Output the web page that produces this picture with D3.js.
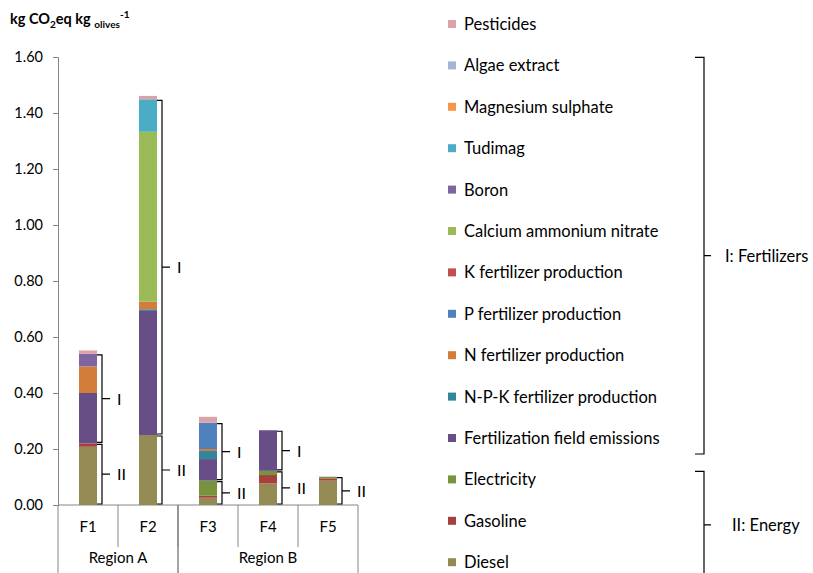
<!doctype html>
<html lang="en">
<head>
  <meta charset="utf-8">
  <title>Carbon footprint per farm</title>
  <style type="text/css">
    body{ margin:0; background:#fff; }
    text{ font-family: Lato, "Open Sans", sans-serif; fill:#000; }
    .axis path, .axis line{ stroke:#868686; }
    .axis text{ font-size:14.5px; }
    .brace{ fill:none; stroke:#000; stroke-width:1.2; }
  </style>
</head>
<body>
  <div id="vis"></div>
  <script src="https://cdn.jsdelivr.net/npm/d3@7"></script>
  <script type="text/javascript">

    var width = 813,
      height = 573;

    // data (stack order, bottom first)
    var farms = ['F1','F2','F3','F4','F5'];
    var regions = ['Region A','Region B'],
      regionSize = [2,3];

    var series = ['Diesel','Gasoline','Electricity','Fertilization field emissions',
      'N-P-K fertilizer production','N fertilizer production','P fertilizer production',
      'K fertilizer production','Calcium ammonium nitrate','Boron','Tudimag',
      'Magnesium sulphate','Algae extract','Pesticides'];

    var diesel      = [0.208, 0.250, 0.026, 0.077, 0.087],
      gasoline      = [0.012, 0.000, 0.007, 0.030, 0.008],
      electricity   = [0.000, 0.000, 0.054, 0.015, 0.006],
      fieldEmis     = [0.180, 0.443, 0.077, 0.145, 0.000],
      npkFert       = [0.000, 0.006, 0.029, 0.000, 0.000],
      nFert         = [0.095, 0.027, 0.007, 0.000, 0.000],
      pFert         = [0.000, 0.000, 0.094, 0.000, 0.000],
      kFert         = [0.000, 0.000, 0.000, 0.000, 0.000],
      can           = [0.000, 0.607, 0.000, 0.000, 0.000],
      boron         = [0.045, 0.000, 0.000, 0.000, 0.000],
      tudimag       = [0.000, 0.116, 0.000, 0.000, 0.000],
      mgSulphate    = [0.000, 0.000, 0.000, 0.000, 0.000],
      algae         = [0.000, 0.000, 0.000, 0.000, 0.000],
      pesticides    = [0.012, 0.012, 0.021, 0.000, 0.000];

    var values = [diesel, gasoline, electricity, fieldEmis, npkFert, nFert, pFert,
      kFert, can, boron, tudimag, mgSulphate, algae, pesticides];

    var colors = ['#948A54','#A5403D','#77933C','#674E87','#31859C','#D27E3A','#4F81BD',
      '#C0504D','#9BBB59','#8064A2','#4BACC6','#F79646','#A5B5D7','#DBA3A6'];

    var yTicks = [0,0.2,0.4,0.6,0.8,1.0,1.2,1.4,1.6];

    // groups for the braces: [first series, last series, label]
    var groups = [[0,2,'II'],[3,12,'I']];

    var svg = d3.select('#vis').append('svg')
      .attr('width', width)
      .attr('height', height);

    var x = d3.scaleBand().domain(farms).range([58,358]);
    var y = d3.scaleLinear().domain([0,1.6]).range([505,57]);
    var barW = x.bandwidth()*0.3;

    // title
    var title = svg.append('text')
      .attr('x', 10).attr('y', 24)
      .style('font-size','14.5px').style('font-weight','bold');
    title.append('tspan').text('kg CO');
    title.append('tspan').attr('dy',4).style('font-size','10px').text('2');
    title.append('tspan').attr('dy',-4).text('eq kg ');
    title.append('tspan').attr('dy',4).style('font-size','10px').text('olives');
    title.append('tspan').attr('dy',-10).style('font-size','10px').text('-1');

    // y axis
    svg.append('g')
      .attr('class','axis')
      .attr('transform','translate(58,0)')
      .call(d3.axisLeft(y).tickValues(yTicks).tickFormat(d3.format('.2f')).tickSize(5).tickSizeOuter(5).tickPadding(10));

    // x axis with two levels
    var xa = svg.append('g').attr('class','axis');
    xa.append('line').attr('x1',58).attr('x2',358).attr('y1',505).attr('y2',505);
    farms.forEach(function(f,i){
      if(i > 0){
        xa.append('line').attr('x1',x(f)).attr('x2',x(f)).attr('y1',505).attr('y2',547);
      }
      xa.append('text')
        .attr('x', x(f)+x.bandwidth()/2).attr('y', 532)
        .attr('text-anchor','middle')
        .style('font-size','15px')
        .text(f);
    });
    var start = 0;
    regions.forEach(function(r,i){
      var x0 = x(farms[start]), x1 = x(farms[start+regionSize[i]-1])+x.bandwidth();
      xa.append('line').attr('x1',x0).attr('x2',x0).attr('y1',505).attr('y2',573);
      xa.append('line').attr('x1',x1).attr('x2',x1).attr('y1',505).attr('y2',573);
      xa.append('text')
        .attr('x',(x0+x1)/2).attr('y',563)
        .attr('text-anchor','middle')
        .style('font-size','15px')
        .text(r);
      start += regionSize[i];
    });

    // stacked bars
    var rows = farms.map(function(f,i){
      var row = {farm:f};
      series.forEach(function(s,j){ row[s] = values[j][i]; });
      return row;
    });
    var stack = d3.stack().keys(series)(rows);

    svg.append('g').selectAll('g')
      .data(stack)
      .enter().append('g')
        .attr('fill', function(d,i){ return colors[i]; })
      .selectAll('rect')
      .data(function(d){ return d; })
      .enter().append('rect')
        .attr('x', function(d){ return x(d.data.farm)+(x.bandwidth()-barW)/2; })
        .attr('width', barW)
        .attr('y', function(d){ return y(d[1]); })
        .attr('height', function(d){ return y(d[0])-y(d[1]); });

    // braces next to each bar
    function brace(g, xb, y0, y1, hook, tick){
      var ym = (y0+y1)/2;
      g.append('path')
        .attr('class','brace')
        .attr('d', 'M'+(xb-hook)+','+y0+'L'+xb+','+y0+'L'+xb+','+y1+'L'+(xb-hook)+','+y1
          +'M'+xb+','+ym+'L'+(xb+tick)+','+ym);
    }

    var braces = svg.append('g');
    farms.forEach(function(f,i){
      var xr = x(f)+(x.bandwidth()+barW)/2 + 5;
      groups.forEach(function(gr){
        var lo = stack[gr[0]][i][0], hi = stack[gr[1]][i][1];
        if(hi - lo <= 0.001) return;
        var y0 = y(hi)+1, y1 = y(lo)-1;
        brace(braces, xr, y0, y1, 5, 8);
        braces.append('text')
          .attr('x', xr+15).attr('y', (y0+y1)/2+6)
          .style('font-size','16px')
          .style('fill','#000')
          .text(gr[2]);
      });
    });

    // legend
    var legend = svg.append('g');
    var legendY = function(k){ return 24 + k*41.4; };
    var order = series.slice().reverse();
    order.forEach(function(s,k){
      var c = colors[series.indexOf(s)];
      legend.append('rect')
        .attr('x',448).attr('y',legendY(k)-4).attr('width',8).attr('height',8)
        .attr('fill',c);
      legend.append('text')
        .attr('x',464).attr('y',legendY(k)+6)
        .style('font-size','16.5px')
        .text(s);
    });

    // group braces in the legend
    var legendGroups = [[12,3,'I: Fertilizers',725],[2,0,'II: Energy',732]];
    legendGroups.forEach(function(gr){
      var k0 = order.indexOf(series[gr[0]]), k1 = order.indexOf(series[gr[1]]);
      var y0 = legendY(k0)-8, y1 = legendY(k1)+16;
      brace(legend, 704, y0, y1, 9, 7);
      legend.append('text')
        .attr('x', gr[3]).attr('y', (y0+y1)/2+6)
        .style('font-size','16.5px')
        .text(gr[2]);
    });

  </script>
</body>
</html>
